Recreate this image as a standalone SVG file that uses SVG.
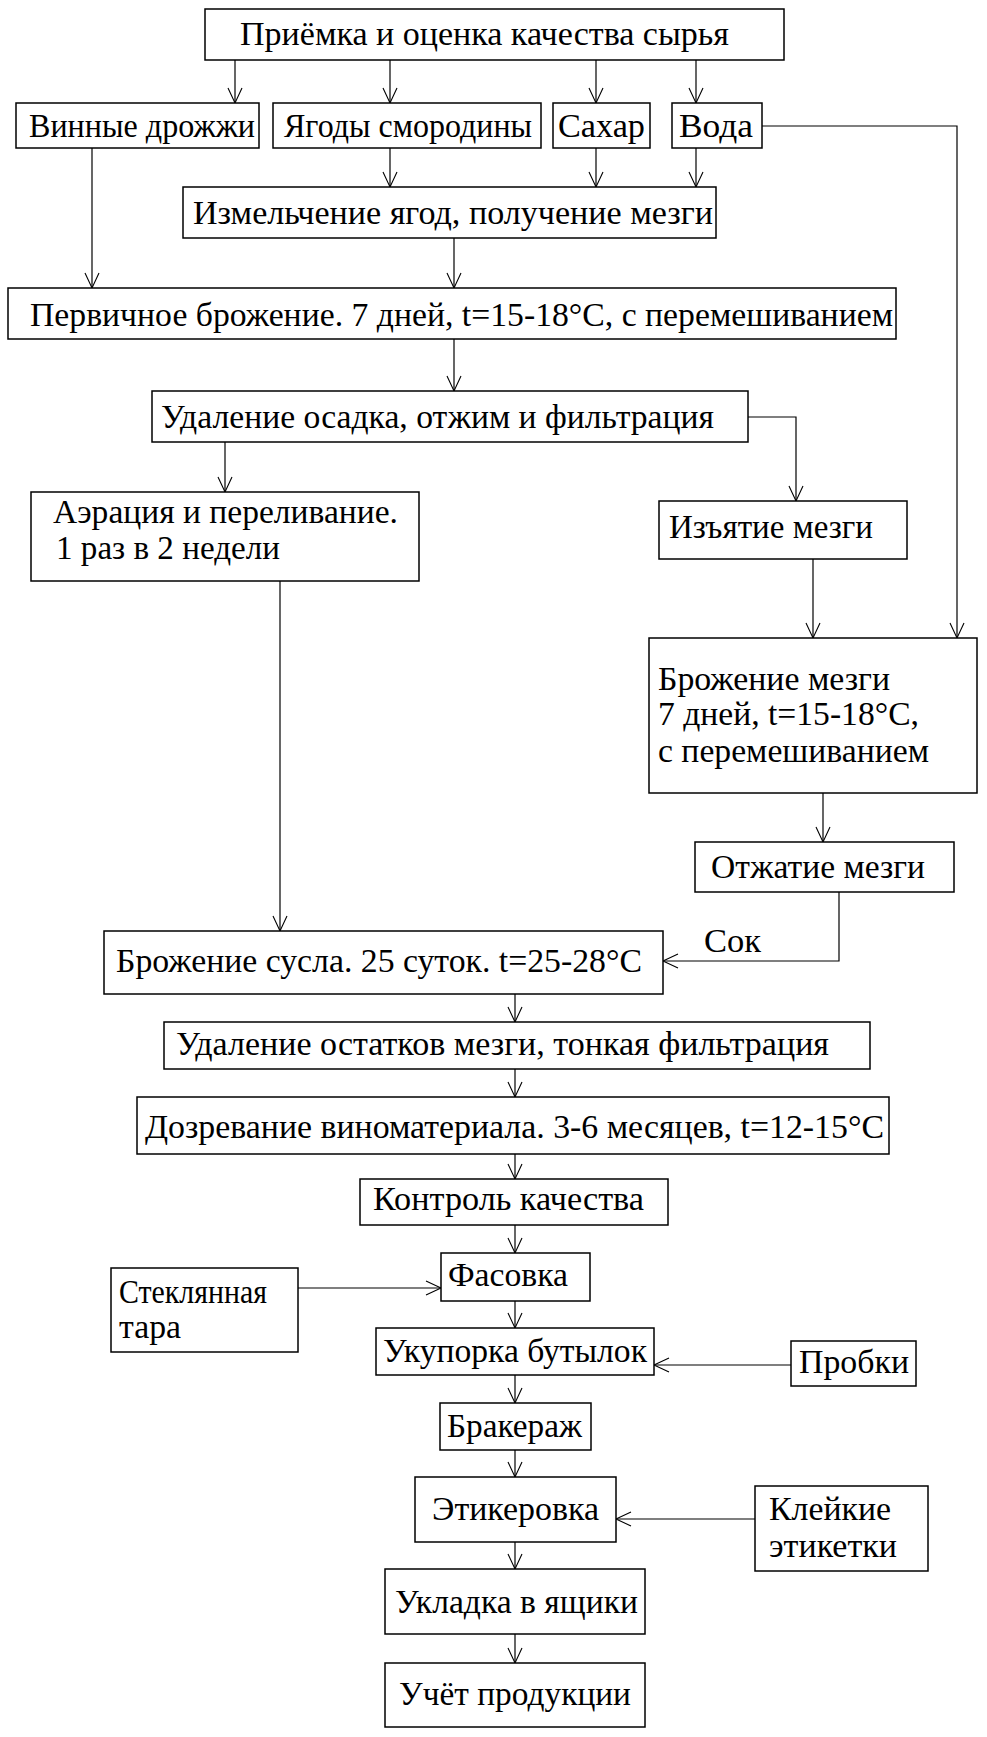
<svg xmlns="http://www.w3.org/2000/svg" width="987" height="1737" viewBox="0 0 987 1737">
<style>
.b{fill:#fff;stroke:#000;stroke-width:1.5}
text{font-family:'Liberation Serif','Times New Roman','DejaVu Serif',serif;font-size:33.8px;fill:#000}
.c path{fill:none;stroke:#000;stroke-width:1.2}
</style>
<defs>
<marker id="a" markerUnits="userSpaceOnUse" markerWidth="18" markerHeight="16" viewBox="0 0 18 16" refX="16" refY="8" orient="auto">
<path d="M1,1 L16,8 L1,15" fill="none" stroke="#000" stroke-width="1.1"/>
</marker>
</defs>
<rect width="987" height="1737" fill="#fff"/>
<g class="c" id="connectors">
<path d="M235,60V103" marker-end="url(#a)"/>
<path d="M390,60V103" marker-end="url(#a)"/>
<path d="M596,60V103" marker-end="url(#a)"/>
<path d="M696,60V103" marker-end="url(#a)"/>
<path d="M390,148V187" marker-end="url(#a)"/>
<path d="M596,148V187" marker-end="url(#a)"/>
<path d="M696,148V187" marker-end="url(#a)"/>
<path d="M762,126H957V638" marker-end="url(#a)"/>
<path d="M92,148V288" marker-end="url(#a)"/>
<path d="M454,238V288" marker-end="url(#a)"/>
<path d="M454,339V391" marker-end="url(#a)"/>
<path d="M225,442V492" marker-end="url(#a)"/>
<path d="M748,417H796V501" marker-end="url(#a)"/>
<path d="M813,559V638" marker-end="url(#a)"/>
<path d="M280,581V931" marker-end="url(#a)"/>
<path d="M823,793V842" marker-end="url(#a)"/>
<path d="M839,892V961H663" marker-end="url(#a)"/>
<path d="M515,994V1022" marker-end="url(#a)"/>
<path d="M515,1069V1097" marker-end="url(#a)"/>
<path d="M515,1154V1179" marker-end="url(#a)"/>
<path d="M515,1225V1253" marker-end="url(#a)"/>
<path d="M515,1301V1328" marker-end="url(#a)"/>
<path d="M515,1375V1403" marker-end="url(#a)"/>
<path d="M515,1450V1477" marker-end="url(#a)"/>
<path d="M515,1542V1569" marker-end="url(#a)"/>
<path d="M515,1634V1663" marker-end="url(#a)"/>
<path d="M298,1288H441" marker-end="url(#a)"/>
<path d="M791,1365H654" marker-end="url(#a)"/>
<path d="M755,1519H616" marker-end="url(#a)"/>
</g>
<g id="n1"><rect class="b" x="205" y="9" width="579" height="51"/><text x="240" y="45" textLength="489" lengthAdjust="spacingAndGlyphs">Приёмка и оценка качества сырья</text></g>
<g id="n2"><rect class="b" x="16" y="103" width="243" height="45"/><text x="29" y="137" textLength="226" lengthAdjust="spacingAndGlyphs">Винные дрожжи</text></g>
<g id="n3"><rect class="b" x="273" y="103" width="268" height="45"/><text x="284" y="137" textLength="248" lengthAdjust="spacingAndGlyphs">Ягоды смородины</text></g>
<g id="n4"><rect class="b" x="553" y="103" width="97" height="45"/><text x="558" y="137" textLength="87" lengthAdjust="spacingAndGlyphs">Сахар</text></g>
<g id="n5"><rect class="b" x="672" y="103" width="90" height="45"/><text x="679" y="137" textLength="74" lengthAdjust="spacingAndGlyphs">Вода</text></g>
<g id="n6"><rect class="b" x="183" y="187" width="533" height="51"/><text x="193" y="224" textLength="520" lengthAdjust="spacingAndGlyphs">Измельчение ягод, получение мезги</text></g>
<g id="n7"><rect class="b" x="8" y="288" width="888" height="51"/><text x="30" y="326" textLength="863" lengthAdjust="spacingAndGlyphs">Первичное брожение. 7 дней, t=15-18°C, с перемешиванием</text></g>
<g id="n8"><rect class="b" x="152" y="391" width="596" height="51"/><text x="161" y="428" textLength="553" lengthAdjust="spacingAndGlyphs">Удаление осадка, отжим и фильтрация</text></g>
<g id="n9"><rect class="b" x="31" y="492" width="388" height="89"/><text x="53" y="523" textLength="345" lengthAdjust="spacingAndGlyphs">Аэрация и переливание.</text><text x="56" y="559" textLength="224" lengthAdjust="spacingAndGlyphs">1 раз в 2 недели</text></g>
<g id="n10"><rect class="b" x="659" y="501" width="248" height="58"/><text x="669" y="538" textLength="204" lengthAdjust="spacingAndGlyphs">Изъятие мезги</text></g>
<g id="n11"><rect class="b" x="649" y="638" width="328" height="155"/><text x="658" y="690" textLength="232" lengthAdjust="spacingAndGlyphs">Брожение мезги</text><text x="658" y="725" textLength="261" lengthAdjust="spacingAndGlyphs">7 дней, t=15-18°C,</text><text x="658" y="762" textLength="271" lengthAdjust="spacingAndGlyphs">с перемешиванием</text></g>
<g id="n12"><rect class="b" x="695" y="842" width="259" height="50"/><text x="711" y="878" textLength="214" lengthAdjust="spacingAndGlyphs">Отжатие мезги</text></g>
<g id="lbl"><text x="704" y="952" textLength="57" lengthAdjust="spacingAndGlyphs">Сок</text></g>
<g id="n13"><rect class="b" x="104" y="931" width="559" height="63"/><text x="116" y="972" textLength="526" lengthAdjust="spacingAndGlyphs">Брожение сусла. 25 суток. t=25-28°C</text></g>
<g id="n14"><rect class="b" x="164" y="1022" width="706" height="47"/><text x="176" y="1055" textLength="653" lengthAdjust="spacingAndGlyphs">Удаление остатков мезги, тонкая фильтрация</text></g>
<g id="n15"><rect class="b" x="137" y="1097" width="752" height="57"/><text x="145" y="1138" textLength="739" lengthAdjust="spacingAndGlyphs">Дозревание виноматериала. 3-6 месяцев, t=12-15°C</text></g>
<g id="n16"><rect class="b" x="360" y="1179" width="308" height="46"/><text x="373" y="1210" textLength="271" lengthAdjust="spacingAndGlyphs">Контроль качества</text></g>
<g id="n17"><rect class="b" x="441" y="1253" width="149" height="48"/><text x="448" y="1286" textLength="120" lengthAdjust="spacingAndGlyphs">Фасовка</text></g>
<g id="n18"><rect class="b" x="111" y="1268" width="187" height="84"/><text x="119" y="1303" textLength="148" lengthAdjust="spacingAndGlyphs">Стеклянная</text><text x="119" y="1338" textLength="62" lengthAdjust="spacingAndGlyphs">тара</text></g>
<g id="n19"><rect class="b" x="376" y="1328" width="278" height="47"/><text x="383" y="1362" textLength="264" lengthAdjust="spacingAndGlyphs">Укупорка бутылок</text></g>
<g id="n20"><rect class="b" x="791" y="1341" width="125" height="45"/><text x="799" y="1373" textLength="110" lengthAdjust="spacingAndGlyphs">Пробки</text></g>
<g id="n21"><rect class="b" x="440" y="1403" width="151" height="47"/><text x="447" y="1437" textLength="135" lengthAdjust="spacingAndGlyphs">Бракераж</text></g>
<g id="n22"><rect class="b" x="415" y="1477" width="201" height="65"/><text x="432" y="1520" textLength="167" lengthAdjust="spacingAndGlyphs">Этикеровка</text></g>
<g id="n23"><rect class="b" x="755" y="1486" width="173" height="85"/><text x="769" y="1520" textLength="122" lengthAdjust="spacingAndGlyphs">Клейкие</text><text x="769" y="1557" textLength="128" lengthAdjust="spacingAndGlyphs">этикетки</text></g>
<g id="n24"><rect class="b" x="385" y="1569" width="260" height="65"/><text x="395" y="1613" textLength="243" lengthAdjust="spacingAndGlyphs">Укладка в ящики</text></g>
<g id="n25"><rect class="b" x="385" y="1663" width="260" height="64"/><text x="399" y="1705" textLength="232" lengthAdjust="spacingAndGlyphs">Учёт продукции</text></g>
</svg>
